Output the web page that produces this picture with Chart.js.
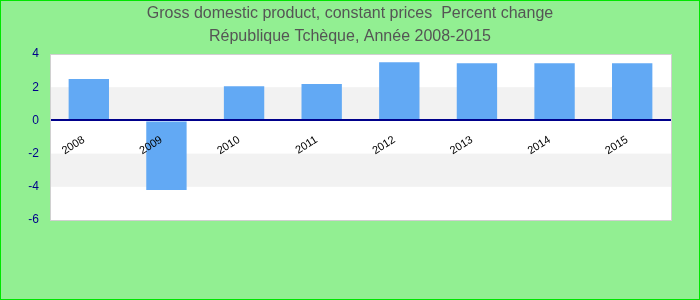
<!DOCTYPE html>
<html>
<head>
<meta charset="utf-8">
<script src="https://cdn.jsdelivr.net/npm/chart.js@4/dist/chart.umd.min.js"></script>
<style>
  html, body { margin: 0; padding: 0; background: #90ee90; }
  #wrap { width: 700px; height: 300px; box-sizing: border-box; border: 1px solid #00e600; background: #92ef92; position: relative; }
  #c { display: block; }
</style>
</head>
<body>
<div id="wrap"><canvas id="c" width="698" height="298"></canvas></div>
<script>
const categories = ['2008', '2009', '2010', '2011', '2012', '2013', '2014', '2015'];
const gdpChange = [2.5, -4.2, 2.05, 2.2, 3.5, 3.45, 3.45, 3.45];
const titleLines = ['Gross domestic product, constant prices  Percent change', 'République Tchèque, Année 2008-2015'];
const yMin = -6, yMax = 4, yStep = 2;

const bandsPlugin = {
  id: 'bands',
  beforeDraw(chart) {
    const { ctx, chartArea: a, scales: { y } } = chart;
    ctx.save();
    ctx.fillStyle = '#ffffff';
    ctx.fillRect(a.left, a.top, a.right - a.left, a.bottom - a.top);
    ctx.fillStyle = '#f2f2f2';
    const ticks = y.ticks.map(t => t.value).sort((p, q) => q - p);
    for (let i = 0; i < ticks.length - 1; i++) {
      if (i % 2 === 1) {
        const t1 = y.getPixelForValue(ticks[i]);
        const t2 = y.getPixelForValue(ticks[i + 1]);
        ctx.fillRect(a.left, t1, a.right - a.left, t2 - t1);
      }
    }
    ctx.restore();
  },
  afterDraw(chart) {
    const { ctx, chartArea: a } = chart;
    ctx.save();
    ctx.strokeStyle = '#d0d0d0';
    ctx.lineWidth = 1;
    ctx.strokeRect(Math.round(a.left) + 0.5, Math.round(a.top) + 0.5, Math.round(a.right - a.left), Math.round(a.bottom - a.top));
    ctx.restore();
  }
};

new Chart(document.getElementById('c'), {
  type: 'bar',
  data: {
    labels: categories,
    datasets: [{
      data: gdpChange,
      backgroundColor: '#62a9f4',
      borderWidth: 0,
      categoryPercentage: 1,
      barPercentage: 0.52
    }]
  },
  options: {
    responsive: false,
    animation: false,
    events: [],
    layout: { padding: { left: 0, right: 0, top: 0, bottom: 79 } },
    plugins: {
      legend: { display: false },
      tooltip: { enabled: false },
      title: {
        display: true,
        text: titleLines,
        color: '#555555',
        font: { family: '"Liberation Sans", Arial, sans-serif', size: 16, weight: 'normal', lineHeight: 1.4375 },
        padding: { top: 1, bottom: 6 }
      }
    },
    scales: {
      x: {
        position: { y: 0 },
        grid: { display: false, drawTicks: false },
        border: { display: false },
        ticks: {
          z: 2,
          color: '#000000',
          font: { family: '"Liberation Sans", Arial, sans-serif', size: 11 },
          minRotation: 32,
          maxRotation: 32,
          padding: 13,
          labelOffset: -5,
          autoSkip: false
        },
        afterFit(s) { s.height = 0; }
      },
      y: {
        min: yMin,
        max: yMax,
        grid: {
          z: 1,
          drawTicks: false,
          color: c => c.tick && c.tick.value === 0 ? '#00008b' : 'rgba(0,0,0,0)',
          lineWidth: c => c.tick && c.tick.value === 0 ? 2 : 0
        },
        border: { display: false },
        ticks: {
          stepSize: yStep,
          color: '#00008b',
          font: { family: '"Liberation Sans", Arial, sans-serif', size: 12 },
          padding: 11
        },
        afterFit(s) { s.width = 49; }
      },
      yRight: {
        position: 'right',
        display: true,
        grid: { display: false, drawTicks: false },
        border: { display: false },
        ticks: { display: false },
        afterFit(s) { s.width = 28; }
      }
    }
  },
  plugins: [bandsPlugin]
});
</script>
</body>
</html>
